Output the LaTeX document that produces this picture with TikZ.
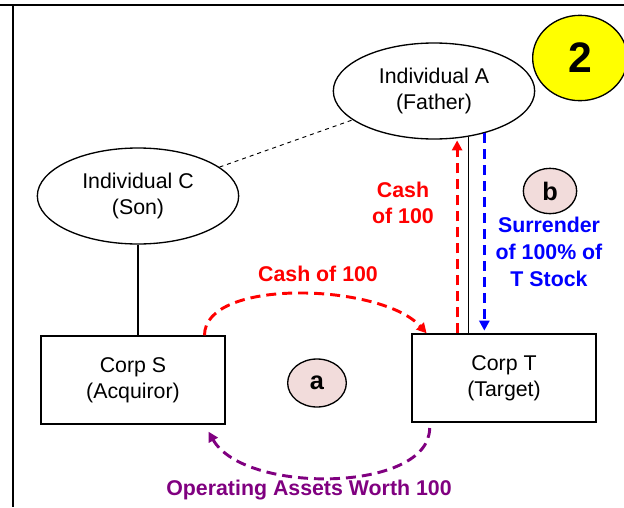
\documentclass[tikz,border=0pt]{standalone}
\usepackage{fontspec}
\setmainfont{Liberation Sans}
\usetikzlibrary{arrows.meta, positioning, shapes.geometric}
\definecolor{cashred}{RGB}{255,0,0}
\definecolor{stockblue}{RGB}{0,0,255}
\definecolor{assetpurple}{RGB}{128,0,128}
\definecolor{steppink}{RGB}{242,220,219}
\definecolor{numyellow}{RGB}{255,255,0}

\begin{document}
\begin{tikzpicture}[x=0.75pt, y=-0.75pt,
  person/.style={ellipse, draw, line width=1pt, fill=white, inner sep=0pt,
    minimum width=151pt, minimum height=72pt, align=center,
    font=\fontsize{16}{20}\selectfont},
  corp/.style={rectangle, draw, line width=1pt, fill=white, inner sep=0pt,
    minimum width=138pt, minimum height=66pt, align=center,
    font=\fontsize{16}{19.5}\selectfont},
  stepmark/.style={ellipse, draw, line width=1pt, fill=steppink, inner sep=0pt,
    font=\bfseries\fontsize{19}{20}\selectfont},
  flow/.style={line width=2.2pt, dash pattern=on 7.5pt off 4.5pt,
    arrows={-Triangle[length=7.5pt,width=7.5pt]}},
  lbl/.style={font=\bfseries\fontsize{16}{20}\selectfont, align=center}]
  \useasboundingbox (0,0) rectangle (624,507);
  % frame
  \draw[line width=2.2pt] (0,5) -- (624,5);
  \draw[line width=1.5pt] (13,5) -- (13,507);
  % parties
  \node[person] (A) at (434,91) {Individual A\\(Father)};
  \node[person] (C) at (138,196) {Individual C\\(Son)};
  \node[corp] (S) at (133,380) {Corp S\\(Acquiror)};
  \node[corp] (T) at (504,378) {Corp T\\(Target)};
  \node[ellipse, draw, line width=1pt, fill=numyellow, inner sep=0pt,
    minimum width=71pt, minimum height=64pt,
    font=\bfseries\fontsize{32}{36}\selectfont] (num) at (580,58) {2};
  \node[stepmark, minimum width=44pt, minimum height=36pt] (stepa) at (317,383) {a};
  \node[stepmark, minimum width=40pt, minimum height=34pt] (stepb) at (550,191) {b};
  % family and ownership lines
  \draw[dashed, line width=0.7pt] (C) -- (A);
  \draw[line width=0.8pt] (C.south) -- (C.south |- S.north);
  \draw[line width=0.8pt] (A.-53) -- (A.-53 |- T.north);
  % flows
  \draw[flow, cashred, shorten >=1.5pt] (A.-64 |- T.north) -- (A.-64);
  \draw[flow, stockblue, shorten >=2pt] (A.-40) -- (A.-40 |- T.north);
  \draw[flow, cashred] (S.32) .. controls +(0,-58) and +(-45,-50) .. (T.150);
  \draw[flow, assetpurple, shorten <=4pt, shorten >=6pt]
    (T.211) .. controls +(0,70) and +(40,70) .. (S.-32);
  % labels
  \node[lbl, cashred] (cashA) at (403,203) {Cash\\of 100};
  \node[lbl, stockblue] (stock) at (549,252) {Surrender\\of 100\% of\\T Stock};
  \node[lbl, cashred, anchor=base] (cashS) at (318,281) {Cash of 100};
  \node[lbl, assetpurple, anchor=base] (assets) at (309,495) {Operating Assets Worth 100};
\end{tikzpicture}
\end{document}
